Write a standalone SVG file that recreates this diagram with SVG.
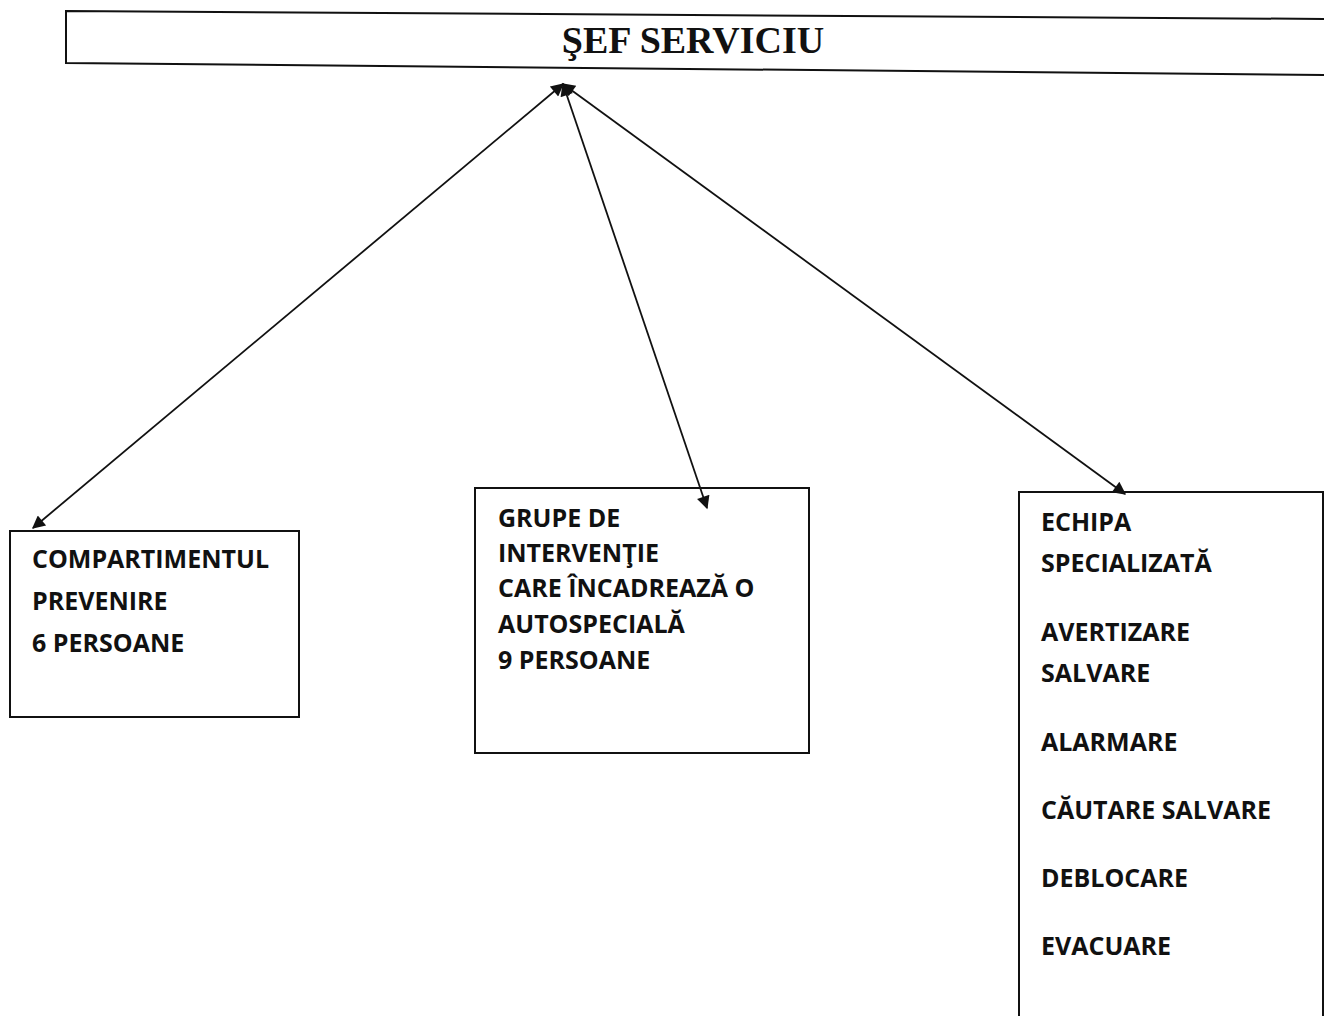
<svg xmlns="http://www.w3.org/2000/svg" width="1324" height="1016" viewBox="0 0 1324 1016">
<style>
.box{fill:#fff;stroke:#111;stroke-width:2}
.t{font-family:"Open Sans","Liberation Sans",sans-serif;font-weight:bold;font-size:25px;fill:#111}
.title{font-family:"Liberation Serif",serif;font-weight:bold;font-size:38px;fill:#111}
.conn{stroke:#111;stroke-width:1.8;fill:none;marker-end:url(#ah);marker-start:url(#ah)}
</style>
<defs>
<marker id="ah" viewBox="0 0 10 10" refX="9" refY="5" markerWidth="15" markerHeight="13" markerUnits="userSpaceOnUse" orient="auto-start-reverse"><path d="M0,0 L10,5 L0,10 z" fill="#111"/></marker>
</defs>
<rect width="1324" height="1016" fill="#fff"/>
<g id="sef">
<path class="box" d="M66,11 L1330,19 L1330,75 L66,63 Z"/>
<text class="title" x="693" y="53" text-anchor="middle">ŞEF SERVICIU</text>
</g>
<g id="compartiment">
<rect class="box" x="10" y="531" width="289" height="186"/>
<text class="t" x="32" y="568">COMPARTIMENTUL</text>
<text class="t" x="32" y="610">PREVENIRE</text>
<text class="t" x="32" y="652">6 PERSOANE</text>
</g>
<g id="grupe">
<rect class="box" x="475" y="488" width="334" height="265"/>
<text class="t" x="498" y="527">GRUPE DE</text>
<text class="t" x="498" y="562">INTERVENŢIE</text>
<text class="t" x="498" y="597">CARE ÎNCADREAZĂ O</text>
<text class="t" x="498" y="633">AUTOSPECIALĂ</text>
<text class="t" x="498" y="669">9 PERSOANE</text>
</g>
<g id="echipa">
<rect class="box" x="1019" y="492" width="304" height="540"/>
<text class="t" x="1041" y="531">ECHIPA</text>
<text class="t" x="1041" y="572">SPECIALIZATĂ</text>
<text class="t" x="1041" y="641">AVERTIZARE</text>
<text class="t" x="1041" y="682">SALVARE</text>
<text class="t" x="1041" y="751">ALARMARE</text>
<text class="t" x="1041" y="819">CĂUTARE SALVARE</text>
<text class="t" x="1041" y="887">DEBLOCARE</text>
<text class="t" x="1041" y="955">EVACUARE</text>
</g>
<g id="connectors">
<line class="conn" x1="563" y1="84" x2="33" y2="528"/>
<line class="conn" x1="563" y1="84" x2="707" y2="508"/>
<line class="conn" x1="563" y1="84" x2="1125" y2="494"/>
</g>
</svg>
